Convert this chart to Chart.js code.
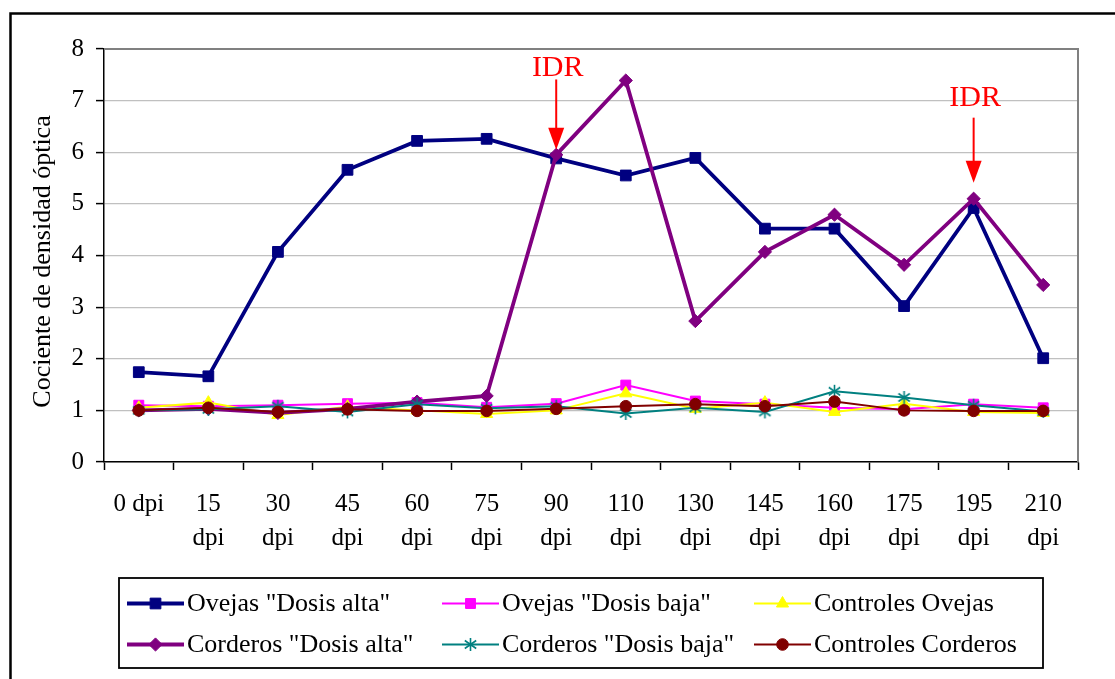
<!DOCTYPE html>
<html>
<head>
<meta charset="utf-8">
<script src="https://cdn.jsdelivr.net/npm/chart.js@4.4.1/dist/chart.umd.min.js"></script>
<style>
  html, body { margin: 0; padding: 0; background: #ffffff; }
  canvas { display: block; }
</style>
</head>
<body>
<canvas id="chart" width="1115" height="679"></canvas>
<script>
// Sampling days (days post infection)
const categories = ['0 dpi', '15 dpi', '30 dpi', '45 dpi', '60 dpi', '75 dpi', '90 dpi',
                    '110 dpi', '130 dpi', '145 dpi', '160 dpi', '175 dpi', '195 dpi', '210 dpi'];

// Optical density ratio per group
const ovejasDosisAlta     = [1.74, 1.66, 4.07, 5.66, 6.22, 6.26, 5.88, 5.55, 5.89, 4.52, 4.52, 3.02, 4.92, 2.01];
const ovejasDosisBaja     = [1.10, 1.08, 1.10, 1.13, 1.15, 1.06, 1.13, 1.49, 1.18, 1.12, 1.05, 1.02, 1.12, 1.05];
const controlesOvejas     = [1.05, 1.15, 0.91, 1.07, 1.00, 0.93, 1.00, 1.33, 1.03, 1.15, 0.97, 1.13, 0.97, 0.95];
const corderosDosisAlta   = [1.00, 1.03, 0.95, 1.03, 1.17, 1.28, 5.95, 7.39, 2.73, 4.07, 4.79, 3.82, 5.10, 3.43];
const corderosDosisBaja   = [1.00, 1.02, 1.08, 0.97, 1.12, 1.04, 1.08, 0.94, 1.05, 0.97, 1.37, 1.25, 1.10, 0.98];
const controlesCorderos   = [1.00, 1.05, 0.97, 1.02, 0.99, 0.99, 1.03, 1.08, 1.12, 1.08, 1.17, 1.00, 0.99, 0.99];

const seriesNames = ['Ovejas "Dosis alta"', 'Ovejas "Dosis baja"', 'Controles Ovejas',
                     'Corderos "Dosis alta"', 'Corderos "Dosis baja"', 'Controles Corderos'];

// Y axis range and title
const yMin = 0, yMax = 8, yStep = 1;
const yTitle = 'Cociente de densidad óptica';

// Booster (IDR) markers: category, label baseline value, arrow start value, arrow tip value
const idrCategories = ['90 dpi', '195 dpi'];
const idrLabelBase  = [7.48, 6.89];
const idrArrowFrom  = [7.41, 6.67];
const idrArrowTo    = [6.05, 5.41];
const idrText = 'IDR';

const FONT = 'Liberation Serif, Times New Roman, serif';

// Two-line tick labels, except the short first one
const tickLabels = categories.map(c => c.length > 5 ? c.split(' ') : c);

// Six-armed asterisk marker
function makeStar(color) {
  const s = 15, c = document.createElement('canvas');
  c.width = s; c.height = s;
  const g = c.getContext('2d');
  g.strokeStyle = color; g.lineWidth = 1.6; g.lineCap = 'butt';
  g.beginPath();
  g.moveTo(7.5, 1); g.lineTo(7.5, 14);
  g.moveTo(1.8, 3.5); g.lineTo(13.2, 11.5);
  g.moveTo(1.8, 11.5); g.lineTo(13.2, 3.5);
  g.stroke();
  return c;
}
const tealStar = makeStar('#008080');

function series(label, data, color, width, style, radius, order) {
  return {
    label, data, order,
    borderColor: color, backgroundColor: color,
    borderWidth: width,
    pointStyle: style, pointRadius: radius, pointHoverRadius: radius,
    pointBackgroundColor: color, pointBorderColor: color, pointBorderWidth: 1,
    tension: 0, fill: false
  };
}

const datasets = [
  series(seriesNames[0], ovejasDosisAlta,   '#000080', 3.8, 'rect',     7.6, 6),
  series(seriesNames[1], ovejasDosisBaja,   '#FF00FF', 2,   'rect',     7.0, 5),
  series(seriesNames[2], controlesOvejas,   '#FFFF00', 2,   'triangle', 7.0, 4),
  series(seriesNames[3], corderosDosisAlta, '#800080', 3.8, 'rectRot',  6.6, 3),
  series(seriesNames[4], corderosDosisBaja, '#008080', 2,   tealStar,   7.0, 2),
  series(seriesNames[5], controlesCorderos, '#800000', 2,   'circle',   5.8, 1)
];

// Frame, plot border, axis title, legend and IDR arrows
const decorations = {
  id: 'decorations',
  beforeDraw(chart) {
    const ctx = chart.ctx;
    ctx.save();
    ctx.fillStyle = '#ffffff';
    ctx.fillRect(0, 0, chart.width, chart.height);
    ctx.strokeStyle = '#000000';
    ctx.lineWidth = 2.5;
    ctx.beginPath();
    ctx.moveTo(10.5, chart.height + 5);
    ctx.lineTo(10.5, 13.5);
    ctx.lineTo(chart.width + 5, 13.5);
    ctx.stroke();
    ctx.restore();
  },
  beforeDatasetsDraw(chart) {
    const { ctx, chartArea: a } = chart;
    ctx.save();
    ctx.strokeStyle = '#808080';
    ctx.lineWidth = 2;
    ctx.beginPath();
    ctx.moveTo(a.left, a.top);
    ctx.lineTo(a.right, a.top);
    ctx.lineTo(a.right, a.bottom);
    ctx.stroke();
    ctx.restore();
  },
  afterDraw(chart) {
    const { ctx, chartArea: a } = chart;
    const xs = chart.scales.x, ys = chart.scales.y;
    ctx.save();

    // Y axis title
    ctx.fillStyle = '#000000';
    ctx.font = '26px ' + FONT;
    ctx.textAlign = 'center';
    ctx.textBaseline = 'middle';
    ctx.translate(43, (a.top + a.bottom) / 2 + 6);
    ctx.rotate(-Math.PI / 2);
    ctx.fillText(yTitle, 0, 0);
    ctx.setTransform(1, 0, 0, 1, 0, 0);

    // IDR labels and arrows
    idrCategories.forEach((cat, i) => {
      const x = xs.getPixelForValue(categories.indexOf(cat));
      const yText = ys.getPixelForValue(idrLabelBase[i]);
      const y0 = ys.getPixelForValue(idrArrowFrom[i]);
      const y1 = ys.getPixelForValue(idrArrowTo[i]);
      ctx.fillStyle = '#FF0000';
      ctx.strokeStyle = '#FF0000';
      ctx.font = '30px ' + FONT;
      ctx.textAlign = 'center';
      ctx.textBaseline = 'alphabetic';
      ctx.fillText(idrText, x + 1.5, yText);
      const head = 22, half = 8;
      ctx.lineWidth = 2;
      ctx.beginPath();
      ctx.moveTo(x, y0);
      ctx.lineTo(x, y1 - head + 1);
      ctx.stroke();
      ctx.beginPath();
      ctx.moveTo(x - half, y1 - head);
      ctx.lineTo(x + half, y1 - head);
      ctx.lineTo(x, y1);
      ctx.closePath();
      ctx.fill();
    });

    // Legend box
    const box = { x: 119, y: 578, w: 924, h: 90 };
    ctx.strokeStyle = '#000000';
    ctx.lineWidth = 1.8;
    ctx.strokeRect(box.x, box.y, box.w, box.h);
    const colX = [127, 442, 754];
    const rowY = [603.5, 644.5];
    const sample = 57;
    chart.data.datasets.forEach((ds, i) => {
      const cx = colX[i % 3], cy = rowY[Math.floor(i / 3)];
      ctx.strokeStyle = ds.borderColor;
      ctx.lineWidth = ds.borderWidth;
      ctx.beginPath();
      ctx.moveTo(cx, cy);
      ctx.lineTo(cx + sample, cy);
      ctx.stroke();
      ctx.fillStyle = ds.pointBackgroundColor;
      ctx.strokeStyle = ds.pointBorderColor;
      ctx.lineWidth = 1;
      Chart.helpers.drawPoint(ctx, {
        pointStyle: ds.pointStyle, radius: ds.pointRadius, rotation: 0, borderWidth: 1
      }, cx + sample / 2, cy);
      ctx.fillStyle = '#000000';
      ctx.font = '26px ' + FONT;
      ctx.textAlign = 'left';
      ctx.textBaseline = 'middle';
      ctx.fillText(ds.label, cx + sample + 3, cy + 1);
    });
    ctx.restore();
  }
};

new Chart(document.getElementById('chart'), {
  type: 'line',
  data: { labels: categories, datasets },
  options: {
    responsive: false,
    devicePixelRatio: 1,
    animation: false,
    events: [],
    layout: { padding: { top: 49, right: 37, left: 0, bottom: 0 } },
    plugins: { legend: { display: false }, tooltip: { enabled: false }, title: { display: false } },
    scales: {
      x: {
        type: 'category',
        offset: true,
        grid: { offset: true, drawOnChartArea: false, tickLength: 8, tickColor: '#000000', tickWidth: 1.5 },
        border: { color: '#000000', width: 1.5 },
        ticks: {
          color: '#000000',
          font: { family: FONT, size: 25, lineHeight: 1.36 },
          padding: 17,
          maxRotation: 0, autoSkip: false,
          callback: (v, i) => tickLabels[i]
        },
        afterFit: s => { s.height = 217; }
      },
      y: {
        min: yMin, max: yMax,
        grid: { color: '#c0c0c0', lineWidth: 1.2, tickLength: 8, tickColor: '#000000', tickWidth: 1.5 },
        border: { color: '#000000', width: 1.5 },
        ticks: {
          stepSize: yStep,
          color: '#000000',
          font: { family: FONT, size: 25 },
          padding: 12
        },
        afterFit: s => { s.width = 104; }
      }
    }
  },
  plugins: [decorations]
});
</script>
</body>
</html>
